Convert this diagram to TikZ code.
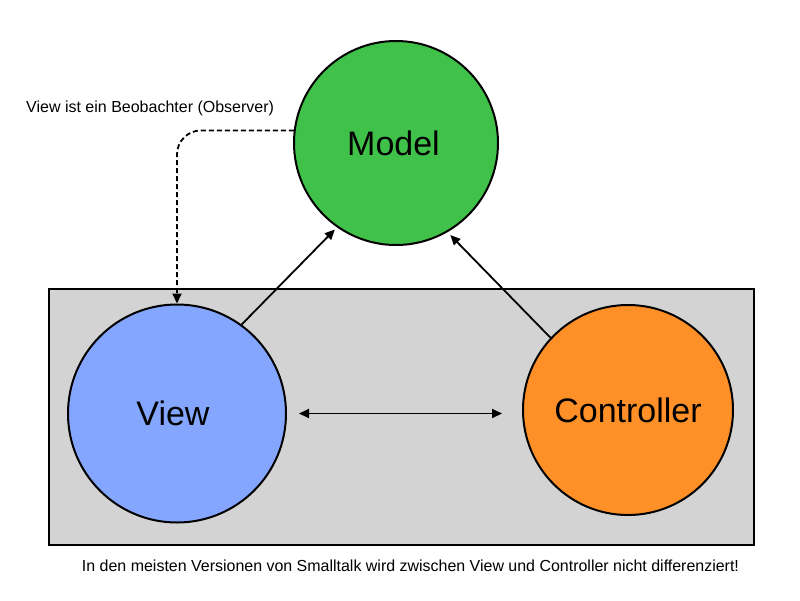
\documentclass[tikz,border=0pt]{standalone}
\usepackage{fontspec}
\setmainfont{Liberation Sans}
\usetikzlibrary{arrows.meta}
\definecolor{modelc}{HTML}{40C24A}
\definecolor{viewc}{HTML}{84A6FF}
\definecolor{ctrlc}{HTML}{FF9028}
\definecolor{boxc}{HTML}{D3D3D3}
\tikzset{
  bubble/.style={circle,draw=black,line width=2pt,inner sep=0pt,font=\fontsize{34}{40}\selectfont},
  tip/.tip={Triangle[length=10pt,width=9pt]},
  conn/.style={line width=1.8pt,-tip},
  note/.style={font=\fontsize{16}{19}\selectfont,inner sep=0pt}
}
\begin{document}
\begin{tikzpicture}[x=1pt,y=-1pt]
\useasboundingbox (0,0) rectangle (800,600);
\node[draw=black,fill=boxc,line width=2pt,minimum width=705pt,minimum height=256pt,inner sep=0pt,anchor=north west] (box) at (48,288) {};
\node[bubble,fill=modelc,minimum size=204pt] (model) at (396,143) {\hspace*{-5pt}Model};
\node[bubble,fill=viewc,minimum size=218pt] (view) at (177,413.5) {\hspace*{-8pt}View};
\node[bubble,fill=ctrlc,minimum size=210pt] (controller) at (628,410) {Controller};
\node[note,anchor=west] (obs) at (26,108) {View ist ein Beobachter (Observer)};
\node[note] (foot) at (410.5,566) {\resizebox{657pt}{\height}{In den meisten Versionen von Smalltalk wird zwischen View und Controller nicht differenziert!}};
\draw[conn,dash pattern=on 5pt off 3pt,rounded corners=24pt] (model.173) -| (view.north);
\draw[conn,shorten >=3pt] (view.54) -- (model.235);
\draw[conn,shorten >=4pt] (controller.137) -- (model.300);
\draw[line width=1.8pt,tip-tip,shorten <=12pt,shorten >=20pt] (view.east) -- (view.east -| controller.west);
\end{tikzpicture}
\end{document}
